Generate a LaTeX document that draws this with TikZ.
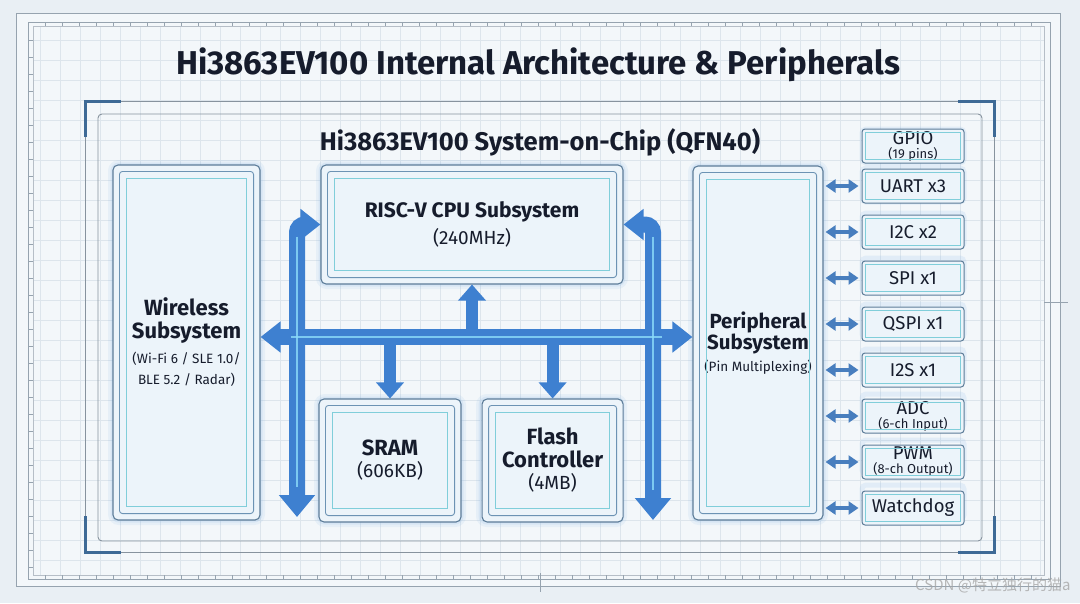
\documentclass[tikz,border=0pt]{standalone}
\usepackage{fontspec}
\setmainfont{Fira Sans}
\newfontfamily\cjkfont{Noto Sans CJK SC}
\usetikzlibrary{positioning,arrows.meta}
\definecolor{PageBg}{RGB}{233,239,244}
\definecolor{SheetBg}{RGB}{243,247,250}
\definecolor{GridLine}{RGB}{221,229,236}
\definecolor{FrameLine}{RGB}{150,163,175}
\definecolor{Bracket}{RGB}{62,106,150}
\definecolor{TextInk}{RGB}{22,28,44}
\definecolor{BoxEdge}{RGB}{92,124,152}
\definecolor{BoxEdgeIn}{RGB}{108,147,180}
\definecolor{InnerCyan}{RGB}{128,206,218}
\definecolor{BoxFill}{RGB}{236,244,250}
\definecolor{GlowBlue}{RGB}{120,175,230}
\definecolor{BusBlue}{RGB}{62,128,208}
\definecolor{BusGlow}{RGB}{140,220,250}
\definecolor{PinBlue}{RGB}{72,126,190}
\newcommand{\hdfont}{\fontsize{22}{24}\selectfont\bfseries}
\newcommand{\notefont}{\fontsize{13.5}{16}\selectfont}
\newcommand{\pinfont}{\fontsize{13}{14}\selectfont}

\begin{document}
\begin{tikzpicture}[x=1pt,y=-1pt,
font=\fontsize{18.5}{19}\selectfont, text=TextInk,
subsys/.style={draw=BoxEdge, line width=1.1pt, rounded corners=5pt, fill=BoxFill, inner sep=2pt, align=center},
pbox/.style={draw=BoxEdge, line width=1pt, rounded corners=3pt, fill=BoxFill, minimum width=102pt, minimum height=34pt, inner sep=1pt, align=center},
bus/.style={draw=BusBlue, line width=16pt},
tap/.style={draw=BusBlue, line width=12pt, -{Triangle[width=27pt,length=16pt]}},
parr/.style={draw=PinBlue, line width=4.5pt, {Triangle[width=13pt,length=10pt]}-{Triangle[width=13pt,length=10pt]}, shorten <=2pt, shorten >=3pt},
glint/.style={draw=BusGlow, line width=1.2pt, opacity=0.8}
]
\useasboundingbox (0,0) rectangle (1080,603);
\fill[PageBg] (0,0) rectangle (1080,603);
\fill[SheetBg] (16,13) rectangle (1060,586);

% grid and ruler frame
\foreach \gx in {40,60,...,1040} \draw[GridLine, line width=0.5pt] (\gx,26) -- (\gx,575);
\foreach \gy in {40,60,...,560} \draw[GridLine, line width=0.5pt] (33,\gy) -- (1044,\gy);
\draw[FrameLine, line width=0.8pt] (16,13) rectangle (1060,586);
\draw[FrameLine, line width=0.8pt] (28,22) rectangle (1050,579);
\draw[FrameLine!70, line width=0.5pt] (33,26) rectangle (1044,575);
\foreach \tx in {45,62,...,1040} {
  \draw[FrameLine, line width=0.4pt] (\tx,22) -- (\tx,26);
  \draw[FrameLine, line width=0.4pt] (\tx,575) -- (\tx,579);
}
\foreach \ty in {40,57,...,570} \draw[FrameLine, line width=0.4pt] (28,\ty) -- (33,\ty);
\draw[FrameLine, line width=0.6pt] (540,573) -- (540,592);
\draw[FrameLine, line width=0.6pt] (1044,302) -- (1068,302);

% titles
\node[anchor=base, font=\fontsize{33}{36}\selectfont\bfseries] (title) at (538,74) {Hi3863EV100 Internal Architecture \& Peripherals};

% chip outline with corner brackets
\draw[FrameLine!90!black, line width=0.9pt] (85,101) rectangle (994,552);
\draw[FrameLine!90!black, line width=0.9pt, rounded corners=4pt] (98,114) rectangle (982,541);
\draw[Bracket, line width=3pt] (85,137) -- (85,101) -- (121,101);
\draw[Bracket, line width=3pt] (958,101) -- (994,101) -- (994,137);
\draw[Bracket, line width=3pt] (85,516) -- (85,552) -- (121,552);
\draw[Bracket, line width=3pt] (958,552) -- (994,552) -- (994,516);
\node[anchor=base, font=\fontsize{25.5}{28}\selectfont\bfseries] (chip) at (540,150) {Hi3863EV100 System-on-Chip (QFN40)};

% glow behind blocks
\foreach \gx/\gy/\gw/\gh in {113/165/147/355, 321/165/302/119, 319/399/142/123, 481/399/141/123, 693/166/130/354} {
  \draw[GlowBlue, line width=10pt, opacity=0.10, rounded corners=6pt] (\gx,\gy) rectangle ++(\gw,\gh);
  \draw[GlowBlue, line width=5pt, opacity=0.14, rounded corners=6pt] (\gx,\gy) rectangle ++(\gw,\gh);
}
\foreach \gy in {129,168,213,258,304,349,394,440,485}
  \draw[GlowBlue, line width=5pt, opacity=0.14, rounded corners=4pt] (862,\gy) rectangle ++(102,34);

% subsystem blocks
\node[subsys, minimum width=147pt, minimum height=355pt] (wls) at (186.5,342.5)
  {{\hdfont Wireless}\\[4pt]{\hdfont Subsystem}\\[6pt]{\notefont (Wi-Fi 6 / SLE 1.0/}\\[2pt]{\notefont BLE 5.2 / Radar)}};
\node[subsys, minimum width=302pt, minimum height=119pt] (cpu) at (472,224.5)
  {{\fontsize{21}{24}\selectfont\bfseries RISC-V CPU Subsystem}\\[5pt]{\fontsize{19}{20}\selectfont (240MHz)}};
\node[subsys, minimum width=142pt, minimum height=123pt] (sram) at (390,460.5)
  {{\hdfont SRAM}\\[3pt]{\fontsize{19}{20}\selectfont (606KB)}};
\node[subsys, minimum width=141pt, minimum height=123pt, right=20pt of sram] (flash)
  {{\hdfont Flash}\\[4pt]{\hdfont Controller}\\[3pt]{\fontsize{19}{20}\selectfont (4MB)}};
\node[subsys, minimum width=130pt, minimum height=354pt] (per) at (758,343)
  {{\fontsize{20.5}{22}\selectfont\bfseries Peripheral}\\[0pt]{\fontsize{20.5}{22}\selectfont\bfseries Subsystem}\\[3pt]{\notefont (Pin Multiplexing)}};

\foreach \n in {wls,cpu,sram,flash,per} {
  \draw[BoxEdgeIn, line width=0.9pt, rounded corners=3pt] ([shift={(7,7)}]\n.north west) rectangle ([shift={(-7,-7)}]\n.south east);
  \draw[InnerCyan, line width=0.8pt] ([shift={(14,14)}]\n.north west) rectangle ([shift={(-14,-14)}]\n.south east);
}

% peripheral column
\node[pbox] (gpio) at (913,146) {GPIO\\[-5pt]{\pinfont (19 pins)}};
\node[pbox, below=5pt of gpio] (uart) {UART x3};
\node[pbox, below=11pt of uart] (i2c) {I2C x2};
\node[pbox, below=11pt of i2c] (spi) {SPI x1};
\node[pbox, below=11pt of spi] (qspi) {QSPI x1};
\node[pbox, below=11pt of qspi] (i2s) {I2S x1};
\node[pbox, below=11pt of i2s] (adc) {ADC\\[-5pt]{\pinfont (6-ch Input)}};
\node[pbox, below=11pt of adc] (pwm) {PWM\\[-5pt]{\pinfont (8-ch Output)}};
\node[pbox, below=11pt of pwm] (wdg) {Watchdog};

\foreach \n in {gpio,uart,i2c,spi,qspi,i2s,adc,pwm,wdg}
  \draw[InnerCyan, line width=0.7pt] ([shift={(4,4)}]\n.north west) rectangle ([shift={(-4,-4)}]\n.south east);

\foreach \n in {uart,i2c,spi,qspi,i2s,adc,pwm,wdg}
  \draw[parr] (per.east |- \n.west) -- (\n.west);

% system bus
\coordinate (bar) at (0,337);
\coordinate (lbot) at (297,517);
\coordinate (rbot) at (653,520);
\draw[tap] (cpu.south |- bar) -- (cpu.south);
\draw[tap] (sram.north |- bar) -- (sram.north);
\draw[tap] (flash.north |- bar) -- (flash.north);
\draw[bus, {Triangle[width=30pt,length=20pt]}-{Triangle[width=30pt,length=20pt]}] (wls.east |- bar) -- (per.west |- bar);
\draw[bus, rounded corners=8pt, {Triangle[width=30pt,length=20pt]}-{Triangle[width=35pt,length=22pt]}] (cpu.west) -| (lbot);
\draw[bus, rounded corners=8pt, {Triangle[width=30pt,length=20pt]}-{Triangle[width=35pt,length=22pt]}] (cpu.east) -| (rbot);
\draw[glint] ([xshift=30pt]wls.east |- bar) -- ([xshift=-30pt]per.west |- bar);
\draw[glint] ([yshift=-12pt]lbot |- cpu.west) -- ([yshift=30pt]lbot);
\draw[glint] ([yshift=-12pt]rbot |- cpu.east) -- ([yshift=30pt]rbot);

% watermark
\node[anchor=base east, font=\cjkfont\fontsize{15}{17}\selectfont, text=black!35, opacity=0.8] (mark) at (1074,590) {CSDN @特立独行的猫a};
\end{tikzpicture}
\end{document}
